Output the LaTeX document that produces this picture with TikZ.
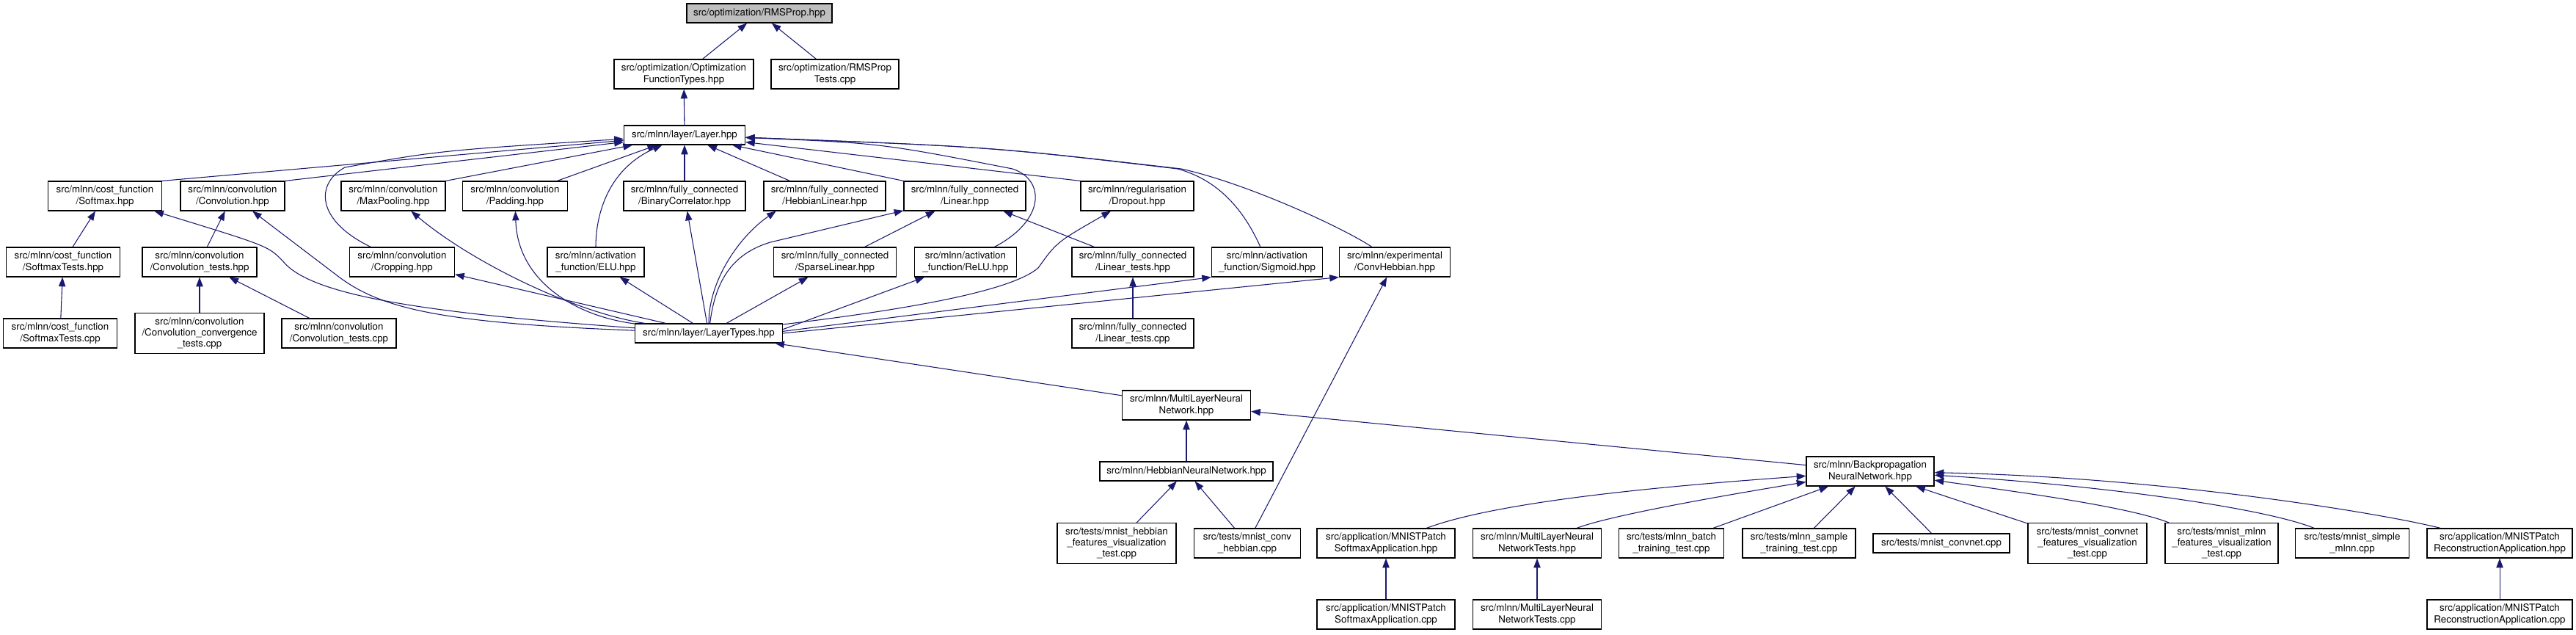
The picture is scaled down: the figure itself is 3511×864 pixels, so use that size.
\documentclass[tikz,border=0pt]{standalone}
\usepackage{fontspec}
\setmainfont{TeX Gyre Heros}
\usepackage{tikz}
\usetikzlibrary{arrows.meta}
\definecolor{depblue}{RGB}{25,25,112}
\definecolor{rootgray}{RGB}{191,191,191}

\begin{document}
\begin{tikzpicture}[
  x=0.75pt, y=-0.75pt,
  file/.style={draw, fill=white, line width=0.9pt, align=center, inner sep=1pt,
    font=\fontsize{10}{11.5}\selectfont},
  box1/.style={file, minimum height=19.5pt},
  box2/.style={file, minimum height=30pt},
  box3/.style={file, minimum height=41.25pt},
  wd/.style={minimum width=#1*0.75pt},
  dep/.style={draw=depblue, line width=0.8pt, ->, >={Triangle[length=9.5pt,width=7pt]}}
]
\useasboundingbox (0,0) rectangle (3511,864);

\node[box1, wd=198, fill=rootgray] (rms) at (1035,18) {src/optimization/RMSProp.hpp};
\node[box2, wd=190] (optft) at (932,101) {src/optimization/Optimization\\FunctionTypes.hpp};
\node[box2, wd=174] (rmstests) at (1138,101) {src/optimization/RMSProp\\Tests.cpp};
\node[box1, wd=165] (layer) at (933,184) {src/mlnn/layer/Layer.hpp};

\node[box2, wd=155] (softmax) at (143,267) {src/mlnn/cost\_function\\/Softmax.hpp};
\node[box2, wd=142] (conv) at (317,267) {src/mlnn/convolution\\/Convolution.hpp};
\node[box2, wd=142] (maxpool) at (536,267) {src/mlnn/convolution\\/MaxPooling.hpp};
\node[box2, wd=143] (padding) at (702,267) {src/mlnn/convolution\\/Padding.hpp};
\node[box2, wd=166] (bincorr) at (933,267) {src/mlnn/fully\_connected\\/BinaryCorrelator.hpp};
\node[box2, wd=166] (hebblin) at (1124,267) {src/mlnn/fully\_connected\\/HebbianLinear.hpp};
\node[box2, wd=166] (linear) at (1315,267) {src/mlnn/fully\_connected\\/Linear.hpp};
\node[box2, wd=154] (dropout) at (1550,267) {src/mlnn/regularisation\\/Dropout.hpp};

\node[box2, wd=155] (smtests) at (86,357) {src/mlnn/cost\_function\\/SoftmaxTests.hpp};
\node[box2, wd=156] (convtests) at (272,357) {src/mlnn/convolution\\/Convolution\_tests.hpp};
\node[box2, wd=143] (cropping) at (548,357) {src/mlnn/convolution\\/Cropping.hpp};
\node[box2, wd=132] (elu) at (812,357) {src/mlnn/activation\\\_function/ELU.hpp};
\node[box2, wd=167] (sparse) at (1138,357) {src/mlnn/fully\_connected\\/SparseLinear.hpp};
\node[box2, wd=139] (relu) at (1316,357) {src/mlnn/activation\\\_function/ReLU.hpp};
\node[box2, wd=166] (lintests) at (1544,357) {src/mlnn/fully\_connected\\/Linear\_tests.hpp};
\node[box2, wd=151] (sigmoid) at (1727,357) {src/mlnn/activation\\\_function/Sigmoid.hpp};
\node[box2, wd=151] (convhebb) at (1901,357) {src/mlnn/experimental\\/ConvHebbian.hpp};

\node[box2, wd=155] (smtestscpp) at (82,454) {src/mlnn/cost\_function\\/SoftmaxTests.cpp};
\node[box3, wd=176] (convconv) at (272,454) {src/mlnn/convolution\\/Convolution\_convergence\\\_tests.cpp};
\node[box2, wd=156] (convtestscpp) at (462,454) {src/mlnn/convolution\\/Convolution\_tests.cpp};
\node[box1, wd=201] (layertypes) at (966,454) {src/mlnn/layer/LayerTypes.hpp};
\node[box2, wd=166] (lintestscpp) at (1544,454) {src/mlnn/fully\_connected\\/Linear\_tests.cpp};

\node[box2, wd=175] (mlnn) at (1617,552) {src/mlnn/MultiLayerNeural\\Network.hpp};
\node[box1, wd=236] (hebbnn) at (1617,642) {src/mlnn/HebbianNeuralNetwork.hpp};
\node[box2, wd=174] (backprop) at (2549,642) {src/mlnn/Backpropagation\\NeuralNetwork.hpp};

\node[box3, wd=162] (hebbfeat) at (1522,740) {src/tests/mnist\_hebbian\\\_features\_visualization\\\_test.cpp};
\node[box2, wd=145] (convhebbcpp) at (1700,740) {src/tests/mnist\_conv\\\_hebbian.cpp};
\node[box2, wd=188] (smapp) at (1889,740) {src/application/MNISTPatch\\SoftmaxApplication.hpp};
\node[box2, wd=175] (mlnntests) at (2095,740) {src/mlnn/MultiLayerNeural\\NetworkTests.hpp};
\node[box2, wd=143] (batch) at (2278,740) {src/tests/mlnn\_batch\\\_training\_test.cpp};
\node[box2, wd=154] (sample) at (2452,740) {src/tests/mlnn\_sample\\\_training\_test.cpp};
\node[box1, wd=186] (convnet) at (2646,740) {src/tests/mnist\_convnet.cpp};
\node[box3, wd=162] (convnetfeat) at (2845,740) {src/tests/mnist\_convnet\\\_features\_visualization\\\_test.cpp};
\node[box3, wd=154] (mlnnfeat) at (3028,740) {src/tests/mnist\_mlnn\\\_features\_visualization\\\_test.cpp};
\node[box2, wd=155] (simple) at (3206,740) {src/tests/mnist\_simple\\\_mlnn.cpp};
\node[box2, wd=198] (recapp) at (3407,740) {src/application/MNISTPatch\\ReconstructionApplication.hpp};

\node[box2, wd=188] (smappcpp) at (1889,837) {src/application/MNISTPatch\\SoftmaxApplication.cpp};
\node[box2, wd=175] (mlnntestscpp) at (2095,837) {src/mlnn/MultiLayerNeural\\NetworkTests.cpp};
\node[box2, wd=198] (recappcpp) at (3407,837) {src/application/MNISTPatch\\ReconstructionApplication.cpp};

\draw[dep] (optft) -- (rms);
\draw[dep] (rmstests) -- (rms);
\draw[dep] (layer) -- (optft);

\draw[dep] (softmax.north east) -- (layer);
\draw[dep] (conv.north east) -- (layer);
\draw[dep] (maxpool.north east) -- (layer);
\draw[dep] (padding) -- (layer);
\draw[dep] (bincorr) -- (layer);
\draw[dep] (hebblin) -- (layer);
\draw[dep] (linear.north west) -- (layer);
\draw[dep] (dropout.north west) -- (layer);
\draw[dep] (cropping) .. controls (430,300) and (430,250) .. (470,228) .. controls (600,205) .. (layer);
\draw[dep] (elu) .. controls (812,290) and (830,230) .. (layer);
\draw[dep] (relu) .. controls (1425,300) and (1425,245) .. (1380,230) .. controls (1200,195) .. (layer);
\draw[dep] (sigmoid) .. controls (1695,285) and (1660,245) .. (1605,230) .. controls (1350,200) .. (layer);
\draw[dep] (convhebb) .. controls (1830,310) and (1700,250) .. (1610,230) .. controls (1350,200) .. (layer);

\draw[dep] (sparse) -- (linear);
\draw[dep] (lintests) -- (linear);
\draw[dep] (lintestscpp) -- (lintests);

\draw[dep] (smtests) -- (softmax);
\draw[dep] (smtestscpp) -- (smtests);
\draw[dep] (convtests) -- (conv);
\draw[dep] (convconv) -- (convtests);
\draw[dep] (convtestscpp) -- (convtests);

\draw[dep] (layertypes) .. controls (560,425) and (420,400) .. (385,355) .. controls (365,335) .. (softmax);
\draw[dep] (layertypes) .. controls (600,440) and (520,420) .. (463,378) -- (conv);
\draw[dep] (layertypes) .. controls (780,425) and (640,355) .. (maxpool);
\draw[dep] (layertypes) -- (cropping);
\draw[dep] (layertypes) .. controls (780,430) and (705,380) .. (padding);
\draw[dep] (layertypes) -- (elu);
\draw[dep] (layertypes) -- (bincorr);
\draw[dep] (layertypes) .. controls (966,380) and (1010,320) .. ([xshift=13pt]hebblin.south west);
\draw[dep] (layertypes) -- (sparse);
\draw[dep] (layertypes) .. controls (975,380) and (1000,345) .. (1050,330) -- (linear);
\draw[dep] ([yshift=4pt]layertypes.east) -- (relu);
\draw[dep] (layertypes) .. controls (1250,420) and (1380,395) .. (1415,365) .. controls (1440,330) .. (dropout);
\draw[dep] ([yshift=2pt]layertypes.east) -- (sigmoid.south west);
\draw[dep] (layertypes.east) -- (convhebb.south west);

\draw[dep] (mlnn) -- (layertypes);
\draw[dep] (hebbnn) -- (mlnn);
\draw[dep] (backprop) -- (mlnn);
\draw[dep] (hebbfeat) -- (hebbnn);
\draw[dep] (convhebbcpp) -- (hebbnn);
\draw[dep] (convhebbcpp) -- (convhebb);

\draw[dep] (smapp) .. controls (2050,680) and (2300,660) .. (backprop);
\draw[dep] (mlnntests) .. controls (2200,700) and (2380,670) .. (backprop);
\draw[dep] (batch) -- (backprop);
\draw[dep] (sample) -- (backprop);
\draw[dep] (convnet) -- (backprop);
\draw[dep] (convnetfeat) -- (backprop);
\draw[dep] (mlnnfeat) .. controls (2900,690) and (2750,670) .. (backprop);
\draw[dep] (simple) .. controls (3080,690) and (2850,660) .. (backprop);
\draw[dep] (recapp) .. controls (3250,700) and (2950,650) .. (backprop);

\draw[dep] (smappcpp) -- (smapp);
\draw[dep] (mlnntestscpp) -- (mlnntests);
\draw[dep] (recappcpp) -- (recapp);
\end{tikzpicture}
\end{document}
